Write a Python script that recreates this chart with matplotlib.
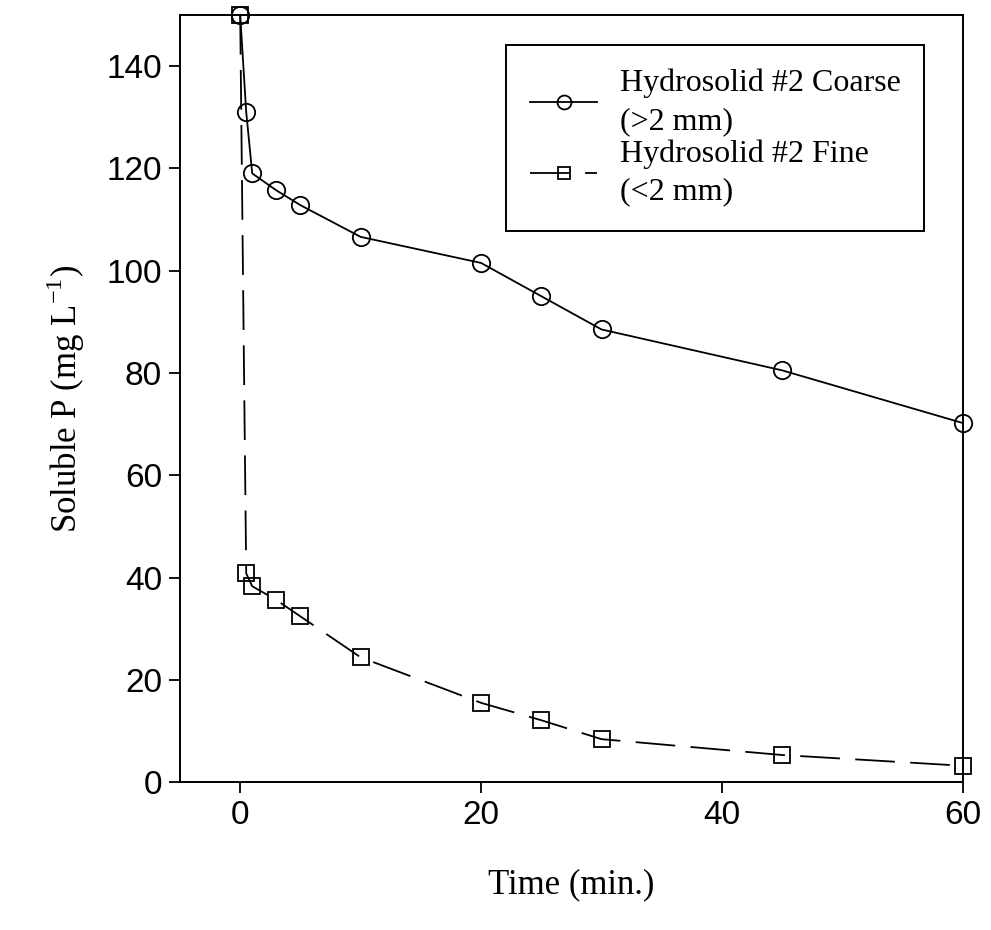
import matplotlib
matplotlib.use("Agg")
import matplotlib.pyplot as plt

# Soluble P over time for the two Hydrosolid #2 size fractions
time_coarse = [0, 0.5, 1, 3, 5, 10, 20, 25, 30, 45, 60]
p_coarse = [150, 131, 119, 115.7, 112.8, 106.6, 101.5, 95, 88.5, 80.5, 70.2]

time_fine = [0, 0.5, 1, 3, 5, 10, 20, 25, 30, 45, 60]
p_fine = [150, 40.8, 38.3, 35.6, 32.4, 24.4, 15.5, 12.1, 8.4, 5.3, 3.2]

x_ticks = [0, 20, 40, 60]
y_ticks = [0, 20, 40, 60, 80, 100, 120, 140]

plt.rcParams["mathtext.fontset"] = "custom"
plt.rcParams["mathtext.rm"] = "Liberation Serif"

fig = plt.figure(figsize=(9.91, 9.30), dpi=100)
ax = fig.add_axes([0.1816, 0.159, 0.790, 0.825])

ax.plot(time_coarse, p_coarse, color="black", lw=1.3, marker="o", ms=12.5,
        mfc="none", mec="black", mew=1.3, clip_on=False,
        label="Hydrosolid #2 Coarse\n(>2 mm)")
ax.plot(time_fine, p_fine, color="black", lw=1.3, marker="s", ms=11,
        mfc="none", mec="black", mew=1.3, dashes=(22, 8.5), clip_on=False,
        label="Hydrosolid #2 Fine\n(<2 mm)")

ax.set_xlim(-5, 60)
ax.set_ylim(0, 150)
ax.set_xticks(x_ticks)
ax.set_yticks(y_ticks)
ax.tick_params(direction="out", length=8, width=1.3, pad=5)
for lbl in ax.get_xticklabels() + ax.get_yticklabels():
    lbl.set_fontfamily("Liberation Sans")
    lbl.set_fontsize(24)
for sp in ax.spines.values():
    sp.set_linewidth(1.4)

serif = {"family": "Liberation Serif", "size": 25}
ax.set_xlabel("Time (min.)", fontdict=serif, labelpad=27)
ax.set_ylabel(r"Soluble P (mg L$^{\mathregular{-1}}$)", fontdict=serif,
              labelpad=14)

leg = ax.legend(loc="upper right", bbox_to_anchor=(0.951, 0.961),
                borderaxespad=0, fancybox=False, edgecolor="black",
                framealpha=1, markerscale=0.8, handlelength=2.1,
                handletextpad=0.7,
                prop={"family": "Liberation Serif", "size": 23},
                labelspacing=0.1, borderpad=0.75)
leg.get_frame().set_linewidth(1.4)
for txt in leg.get_texts():
    txt.set_linespacing(1.4)

fig.savefig("out.png", dpi=100)
